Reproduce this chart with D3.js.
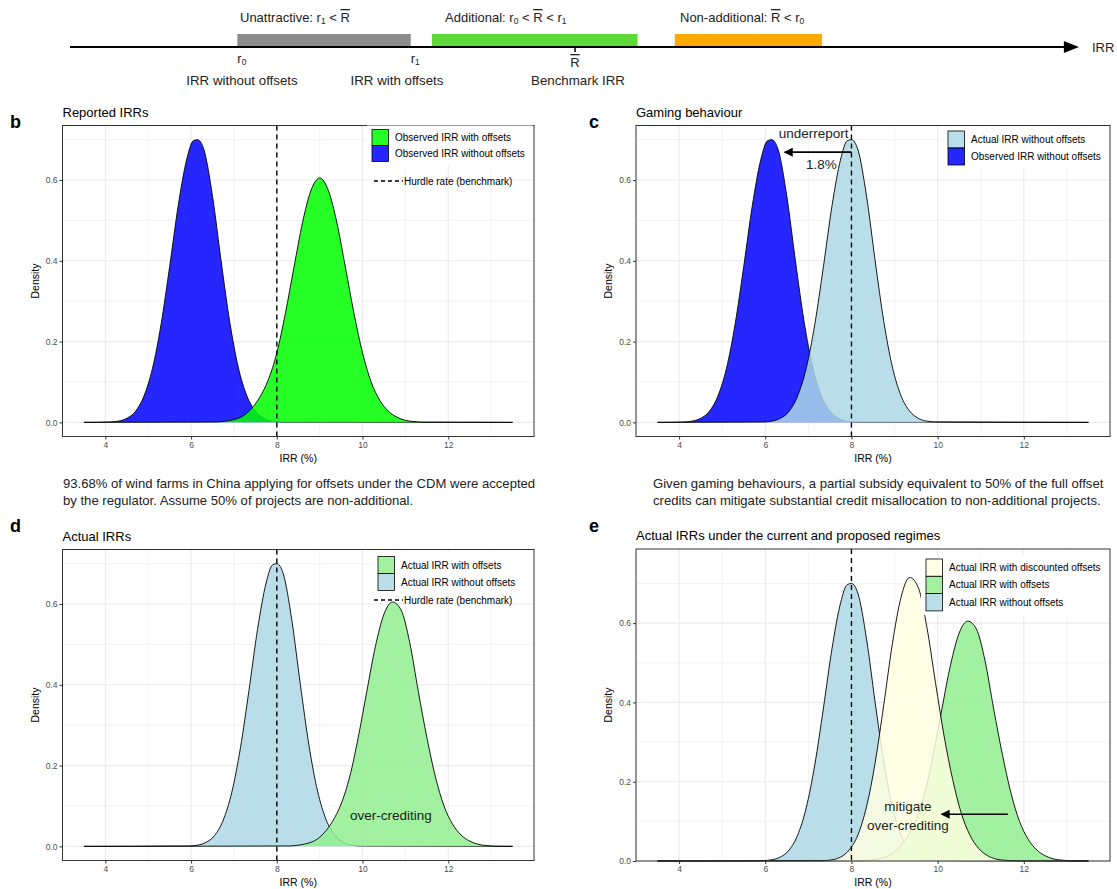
<!DOCTYPE html>
<html>
<head>
<meta charset="utf-8">
<title>Reported and actual IRRs</title>
<script src="https://d3js.org/d3.v7.min.js"></script>
<style>
  body { margin: 0; background: #fff; }
  text { font-family: "Liberation Sans", Arial, Helvetica, sans-serif; }
</style>
</head>
<body>
<script>
// density curves: [IRR (%), density]
var observedWithout = [[3.5,0],[4.1,0.001],[4.3,0.003],[4.5,0.010],[4.7,0.027],[4.9,0.065],[5.1,0.134],[5.3,0.243],
  [5.5,0.386],[5.7,0.537],[5.9,0.652],[6.05,0.697],[6.15,0.700],[6.3,0.675],[6.5,0.560],[6.7,0.400],[6.9,0.250],
  [7.1,0.137],[7.3,0.066],[7.5,0.028],[7.7,0.010],[7.9,0.003],[8.1,0.001],[13.5,0]];
var observedWith = [[3.5,0],[6.6,0.001],[6.8,0.003],[7.0,0.007],[7.2,0.015],[7.4,0.033],[7.6,0.062],[7.8,0.105],
  [8.0,0.172],[8.2,0.270],[8.4,0.384],[8.6,0.495],[8.8,0.575],[9.0,0.605],[9.2,0.575],[9.4,0.495],[9.6,0.384],
  [9.8,0.270],[10.0,0.172],[10.2,0.100],[10.4,0.055],[10.6,0.028],[10.8,0.013],[11.0,0.005],[11.2,0.002],[11.4,0.0005],[13.5,0]];
var actualWithout = [[3.5,0],[5.95,0.001],[6.15,0.003],[6.35,0.010],[6.55,0.027],[6.75,0.065],[6.95,0.134],[7.15,0.243],
  [7.35,0.386],[7.55,0.537],[7.75,0.652],[7.9,0.697],[8.0,0.700],[8.15,0.675],[8.35,0.560],[8.55,0.400],[8.75,0.250],
  [8.95,0.137],[9.15,0.066],[9.35,0.028],[9.55,0.010],[9.75,0.003],[9.95,0.001],[13.5,0]];
var actualWith = [[3.5,0],[8.3,0.001],[8.5,0.003],[8.7,0.007],[8.9,0.015],[9.1,0.033],[9.3,0.062],[9.5,0.105],
  [9.7,0.172],[9.9,0.270],[10.1,0.384],[10.3,0.495],[10.5,0.575],[10.7,0.605],[10.9,0.585],[11.1,0.505],[11.3,0.384],
  [11.5,0.270],[11.7,0.172],[11.9,0.100],[12.1,0.055],[12.3,0.028],[12.5,0.013],[12.7,0.005],[12.9,0.002],[13.1,0.0005],[13.5,0]];
var actualDiscounted = [[3.5,0],[7.35,0.001],[7.55,0.003],[7.75,0.010],[7.95,0.028],[8.15,0.066],[8.35,0.137],[8.55,0.248],
  [8.75,0.394],[8.95,0.548],[9.15,0.665],[9.35,0.715],[9.55,0.690],[9.75,0.590],[9.95,0.450],[10.15,0.315],[10.35,0.205],
  [10.55,0.120],[10.75,0.065],[10.95,0.032],[11.15,0.014],[11.35,0.005],[11.55,0.002],[11.75,0.0005],[13.5,0]];

var xTicks = [4, 6, 8, 10, 12];
var xMinor = [3, 5, 7, 9, 11, 13];
var yTicks = [0, 0.2, 0.4, 0.6];
var yMinor = [0.1, 0.3, 0.5, 0.7];
var hurdleRate = 8;

var legendReported = ["Observed IRR with offsets", "Observed IRR without offsets"];
var legendGaming = ["Actual IRR without offsets", "Observed IRR without offsets"];
var legendActual = ["Actual IRR with offsets", "Actual IRR without offsets"];
var legendRegimes = ["Actual IRR with discounted offsets", "Actual IRR with offsets", "Actual IRR without offsets"];
var hurdleLabel = "Hurdle rate (benchmark)";

// annotations: [from IRR, to IRR, density]
var underreportArrow = [8.0, 6.45, 0.669];
var mitigateArrow = [11.63, 10.09, 0.118];

var captionB = ["93.68% of wind farms in China applying for offsets under the CDM were accepted",
  "by the regulator. Assume 50% of projects are non-additional."];
var captionC = ["Given gaming behaviours, a partial subsidy equivalent to 50% of the full offset",
  "credits can mitigate substantial credit misallocation to non-additional projects."];

// schematic IRR line of panel a (arbitrary 0-100 scale)
var segStart = [16.6, 35.9, 60.0];
var segEnd = [33.8, 56.3, 74.6];
var r0Pos = 16.6, r1Pos = 33.8, benchPos = 50.1;

var C = {blue: "#0000FF", green: "#00FF00", lightblue: "#ADD8E6", lightgreen: "#90EE90", lightyellow: "#FFFFE0"};
var fillAlpha = 0.85;

var width = 1117, height = 889;
var svg = d3.select("body").append("svg").attr("width", width).attr("height", height);

var defs = svg.append("defs");
defs.append("marker").attr("id", "arrowhead")
  .attr("viewBox", "0 0 10 10").attr("refX", 9).attr("refY", 5)
  .attr("markerUnits", "userSpaceOnUse").attr("markerWidth", 10).attr("markerHeight", 9)
  .attr("orient", "auto")
  .append("path").attr("d", "M0,0 L10,5 L0,10 z").attr("fill", "#000");

// ---------- panel a ----------
var xa = d3.scaleLinear().domain([0, 100]).range([70, 1078]);
var aLine = 47;
var aColors = ["#8c8c8c", "#5fd93a", "#ffaa00"];
svg.append("g").selectAll("rect").data(segStart).enter().append("rect")
  .attr("x", function(d) { return xa(d); })
  .attr("y", aLine - 13)
  .attr("width", function(d, i) { return xa(segEnd[i]) - xa(d); })
  .attr("height", 13)
  .attr("fill", function(d, i) { return aColors[i]; });
svg.append("line").attr("x1", xa(0)).attr("x2", xa(99.3)).attr("y1", aLine).attr("y2", aLine)
  .attr("stroke", "#000").attr("stroke-width", 2);
svg.append("path").attr("d", "M" + xa(98.6) + "," + (aLine - 6) + " L" + (xa(98.6) + 15) + "," + aLine + " L" + xa(98.6) + "," + (aLine + 6) + "z")
  .attr("fill", "#000");
svg.append("line").attr("x1", xa(benchPos)).attr("x2", xa(benchPos)).attr("y1", aLine).attr("y2", aLine + 5)
  .attr("stroke", "#000").attr("stroke-width", 1.5);

function richText(g, x, y, parts, anchor, size) {
  var t = g.append("text").attr("x", x).attr("y", y).attr("text-anchor", anchor || "start")
    .attr("font-size", size || 13).attr("fill", "#222");
  parts.forEach(function(p) {
    var s = t.append("tspan").text(p.t);
    if (p.sub) s.attr("font-size", 8.5).attr("dy", 2);
    if (p.back) s.attr("dy", -2);
    if (p.over) s.style("text-decoration", "overline");
  });
  return t;
}
richText(svg, 240, 22, [{t: "Unattractive: r"}, {t: "1", sub: true}, {t: " < ", back: true}, {t: "R", over: true}]);
richText(svg, 445, 22, [{t: "Additional: r"}, {t: "0", sub: true}, {t: " < ", back: true}, {t: "R", over: true}, {t: " < r"}, {t: "1", sub: true}]);
richText(svg, 680, 22, [{t: "Non-additional: "}, {t: "R", over: true}, {t: " < r"}, {t: "0", sub: true}]);
richText(svg, xa(r0Pos), 63, [{t: "r"}, {t: "0", sub: true}]);
richText(svg, xa(r1Pos), 63, [{t: "r"}, {t: "1", sub: true}]);
richText(svg, xa(benchPos), 67, [{t: "R", over: true}], "middle");
svg.append("text").attr("x", 242).attr("y", 85).attr("text-anchor", "middle").attr("font-size", 13.3).attr("fill", "#222").text("IRR without offsets");
svg.append("text").attr("x", 397).attr("y", 85).attr("text-anchor", "middle").attr("font-size", 13.3).attr("fill", "#222").text("IRR with offsets");
svg.append("text").attr("x", 578).attr("y", 85).attr("text-anchor", "middle").attr("font-size", 13.3).attr("fill", "#222").text("Benchmark IRR");
svg.append("text").attr("x", 1092).attr("y", 51.5).attr("font-size", 13).attr("fill", "#222").text("IRR");

// ---------- density panels ----------
var panels = [
  {letter: "b", lx: 10, ly: 128, left: 62.5, right: 534, top: 125.5, bottom: 436.5, yDomain: [-0.035, 0.735],
   title: "Reported IRRs",
   series: [{data: observedWithout, fill: C.blue}, {data: observedWith, fill: C.green}],
   legend: {x: 372, y: 129.5, h: 16, labels: legendReported, fills: [C.green, C.blue], hurdleY: 181}},
  {letter: "c", lx: 589, ly: 128, left: 636, right: 1110, top: 125.5, bottom: 436.5, yDomain: [-0.035, 0.735],
   title: "Gaming behaviour",
   series: [{data: observedWithout, fill: C.blue}, {data: actualWithout, fill: C.lightblue}],
   legend: {x: 948, y: 131, h: 17, labels: legendGaming, fills: [C.lightblue, C.blue]}},
  {letter: "d", lx: 10, ly: 532, left: 62.5, right: 534, top: 549.5, bottom: 860.5, yDomain: [-0.035, 0.735],
   title: "Actual IRRs",
   series: [{data: actualWithout, fill: C.lightblue}, {data: actualWith, fill: C.lightgreen}],
   legend: {x: 378, y: 556.5, h: 17, labels: legendActual, fills: [C.lightgreen, C.lightblue], hurdleY: 600}},
  {letter: "e", lx: 589, ly: 532, left: 636, right: 1110, top: 549, bottom: 861, yDomain: [0, 0.787],
   title: "Actual IRRs under the current and proposed regimes",
   series: [{data: actualWithout, fill: C.lightblue}, {data: actualWith, fill: C.lightgreen}, {data: actualDiscounted, fill: C.lightyellow}],
   legend: {x: 926, y: 559, h: 17.3, labels: legendRegimes, fills: [C.lightyellow, C.lightgreen, C.lightblue]}}
];

panels.forEach(function(p) {
  var g = svg.append("g");
  var x = d3.scaleLinear().domain([3, 14]).range([p.left, p.right]);
  var y = d3.scaleLinear().domain(p.yDomain).range([p.bottom, p.top]);
  p.x = x; p.y = y;

  g.append("text").attr("x", p.lx).attr("y", p.ly).attr("font-size", 18).attr("font-weight", "bold").text(p.letter);
  g.append("text").attr("x", p.left).attr("y", p.top - 9).attr("font-size", 13).text(p.title);

  // grid
  g.selectAll(".vminor").data(xMinor).enter().append("line")
    .attr("x1", x).attr("x2", x).attr("y1", p.top).attr("y2", p.bottom)
    .attr("stroke", "#EBEBEB").attr("stroke-width", 0.6);
  g.selectAll(".hminor").data(yMinor.filter(function(v) { return v < p.yDomain[1]; })).enter().append("line")
    .attr("x1", p.left).attr("x2", p.right).attr("y1", y).attr("y2", y)
    .attr("stroke", "#EBEBEB").attr("stroke-width", 0.6);
  g.selectAll(".vmajor").data(xTicks).enter().append("line")
    .attr("x1", x).attr("x2", x).attr("y1", p.top).attr("y2", p.bottom)
    .attr("stroke", "#EBEBEB").attr("stroke-width", 1.1);
  g.selectAll(".hmajor").data(yTicks).enter().append("line")
    .attr("x1", p.left).attr("x2", p.right).attr("y1", y).attr("y2", y)
    .attr("stroke", "#EBEBEB").attr("stroke-width", 1.1);

  var area = d3.area().x(function(d) { return x(d[0]); }).y0(y(0)).y1(function(d) { return y(d[1]); }).curve(d3.curveMonotoneX);
  var line = d3.line().x(function(d) { return x(d[0]); }).y(function(d) { return y(d[1]); }).curve(d3.curveMonotoneX);
  p.series.forEach(function(s) {
    g.append("path").datum(s.data).attr("d", area).attr("fill", s.fill).attr("fill-opacity", fillAlpha);
    g.append("path").datum(s.data).attr("d", line).attr("fill", "none").attr("stroke", "#000").attr("stroke-width", 0.9);
  });

  g.append("line").attr("x1", x(hurdleRate)).attr("x2", x(hurdleRate)).attr("y1", p.top).attr("y2", p.bottom)
    .attr("stroke", "#000").attr("stroke-width", 1.4).attr("stroke-dasharray", "5,4");

  g.append("rect").attr("x", p.left).attr("y", p.top).attr("width", p.right - p.left).attr("height", p.bottom - p.top)
    .attr("fill", "none").attr("stroke", "#333").attr("stroke-width", 1);

  // axes
  var xa = g.append("g").attr("transform", "translate(0," + p.bottom + ")")
    .call(d3.axisBottom(x).tickValues(xTicks).tickSize(3).tickPadding(2));
  var ya = g.append("g").attr("transform", "translate(" + p.left + ",0)")
    .call(d3.axisLeft(y).tickValues(yTicks).tickFormat(d3.format(".1f")).tickSize(3).tickPadding(2));
  [xa, ya].forEach(function(a) {
    a.select(".domain").remove();
    a.selectAll("line").attr("stroke", "#333");
    a.selectAll("text").attr("fill", "#4D4D4D").attr("font-size", 8.5)
      .attr("font-family", "'Liberation Sans', Arial, sans-serif");
  });
  g.append("text").attr("x", (p.left + p.right) / 2).attr("y", p.bottom + 25).attr("text-anchor", "middle")
    .attr("font-size", 10.5).text("IRR (%)");
  g.append("text").attr("transform", "translate(" + (p.left - 24) + "," + ((p.top + p.bottom) / 2) + ") rotate(-90)")
    .attr("text-anchor", "middle").attr("font-size", 10.5).text("Density");

  // legend
  var L = p.legend;
  var n = L.labels.length;
  g.append("rect").attr("x", L.x - 5).attr("y", L.y - 4).attr("width", p.right - L.x + 4).attr("height", n * L.h + 8)
    .attr("fill", "#fff");
  L.labels.forEach(function(lab, i) {
    g.append("rect").attr("x", L.x).attr("y", L.y + i * L.h).attr("width", 16.5).attr("height", L.h)
      .attr("fill", L.fills[i]).attr("fill-opacity", fillAlpha).attr("stroke", "#000").attr("stroke-width", 0.8);
    g.append("text").attr("x", L.x + 23).attr("y", L.y + i * L.h + L.h / 2).attr("dy", "0.35em")
      .attr("font-size", 10).text(lab);
  });
  if (L.hurdleY) {
    g.append("line").attr("x1", 374).attr("x2", 403).attr("y1", L.hurdleY).attr("y2", L.hurdleY)
      .attr("stroke", "#000").attr("stroke-width", 1.4).attr("stroke-dasharray", "4,3");
    g.append("text").attr("x", 404).attr("y", L.hurdleY).attr("dy", "0.35em").attr("font-size", 10).text(hurdleLabel);
  }
});

// annotations
var pc = panels[1], pd = panels[2], pe = panels[3];
var annSize = 13.5;
svg.append("line")
  .attr("x1", pc.x(underreportArrow[0])).attr("x2", pc.x(underreportArrow[1]))
  .attr("y1", pc.y(underreportArrow[2])).attr("y2", pc.y(underreportArrow[2]))
  .attr("stroke", "#000").attr("stroke-width", 1.6).attr("marker-end", "url(#arrowhead)");
svg.append("text").attr("x", pc.x(7.12)).attr("y", pc.y(0.715)).attr("dy", "0.35em").attr("text-anchor", "middle")
  .attr("font-size", annSize).attr("fill", "#222").text("underreport");
svg.append("text").attr("x", pc.x(7.3)).attr("y", pc.y(0.638)).attr("dy", "0.35em").attr("text-anchor", "middle")
  .attr("font-size", annSize).attr("fill", "#222").text("1.8%");

svg.append("text").attr("x", pd.x(10.66)).attr("y", pd.y(0.076)).attr("dy", "0.35em").attr("text-anchor", "middle")
  .attr("font-size", annSize).attr("fill", "#222").text("over-crediting");

svg.append("line")
  .attr("x1", pe.x(mitigateArrow[0])).attr("x2", pe.x(mitigateArrow[1]))
  .attr("y1", pe.y(mitigateArrow[2])).attr("y2", pe.y(mitigateArrow[2]))
  .attr("stroke", "#000").attr("stroke-width", 1.6).attr("marker-end", "url(#arrowhead)");
svg.append("text").attr("x", pe.x(9.31)).attr("y", pe.y(0.137)).attr("dy", "0.35em").attr("text-anchor", "middle")
  .attr("font-size", annSize).attr("fill", "#222").text("mitigate");
svg.append("text").attr("x", pe.x(9.31)).attr("y", pe.y(0.089)).attr("dy", "0.35em").attr("text-anchor", "middle")
  .attr("font-size", annSize).attr("fill", "#222").text("over-crediting");

// captions
captionB.forEach(function(t, i) {
  svg.append("text").attr("x", 63).attr("y", 488 + i * 17).attr("font-size", 13.1).attr("fill", "#222").text(t);
});
captionC.forEach(function(t, i) {
  svg.append("text").attr("x", 653).attr("y", 488 + i * 17).attr("font-size", 13.1).attr("fill", "#222").text(t);
});
</script>
</body>
</html>
